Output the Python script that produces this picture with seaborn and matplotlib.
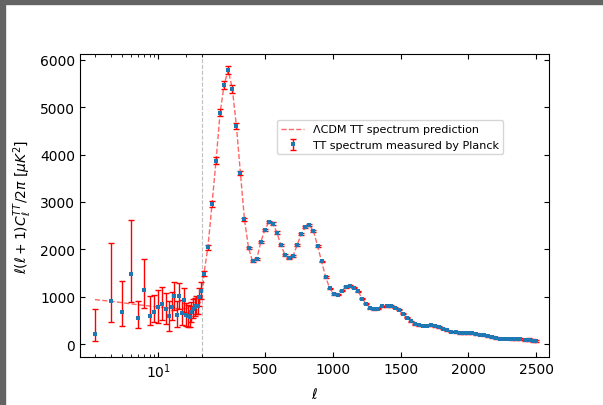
import numpy as np
import matplotlib
matplotlib.use("Agg")
import matplotlib.pyplot as plt
import seaborn as sns
from matplotlib.patches import Rectangle
from matplotlib.ticker import FixedLocator, NullFormatter

# ---------------- data ----------------
# low-ell (unbinned) measurements
low_ell = [2, 3, 4, 5, 6, 7, 8, 9, 10, 11, 12, 13, 14, 15, 16, 17, 18, 19, 20,
           21, 22, 23, 24, 25, 26, 27, 28, 29]
low_D = [215, 919, 674, 1482, 548, 1135, 597, 674, 786, 848, 742, 585, 790, 1008,
         625, 1010, 657, 925, 620, 590, 582, 680, 744, 780, 815, 812, 990, 1130]
low_err_up = [520, 1210, 667, 1145, 365, 660, 428, 365, 360, 360, 340, 320, 310, 300,
              290, 280, 270, 260, 250, 240, 230, 220, 210, 200, 195, 190, 185, 180]
low_err_lo = [140, 456, 294, 583, 211, 379, 190, 211, 330, 330, 310, 300, 290, 280,
              270, 260, 250, 240, 235, 225, 215, 205, 200, 190, 185, 180, 175, 170]

# high-ell (binned) measurements
high_ell = [45, 75, 105, 135, 165, 195, 225, 255, 285, 315, 345, 375, 405, 435, 465,
            495, 525, 555, 585, 615, 645, 675, 705, 735, 765, 795, 825, 855, 885, 915,
            945, 975, 1005, 1035, 1065, 1095, 1125, 1155, 1185, 1215, 1245, 1275, 1305,
            1335, 1365, 1395, 1425, 1455, 1485, 1515, 1545, 1575, 1605, 1635, 1665, 1695,
            1725, 1755, 1785, 1815, 1845, 1875, 1905, 1935, 1965, 1995, 2025, 2055, 2085,
            2115, 2145, 2175, 2205, 2235, 2265, 2295, 2325, 2355, 2385, 2415, 2445, 2475,
            2499]
high_D = [1490, 2040, 2960, 3870, 4880, 5470, 5790, 5380, 4610, 3610, 2630, 2025, 1745,
          1790, 2150, 2410, 2580, 2545, 2355, 2085, 1880, 1810, 1865, 2095, 2325, 2465,
          2515, 2390, 2075, 1745, 1420, 1175, 1060, 1048, 1130, 1205, 1228, 1195, 1117,
          962, 856, 757, 736, 743, 800, 806, 806, 771, 729, 638, 560, 484, 420, 399, 392,
          392, 399, 385, 364, 329, 294, 266, 252, 238, 238, 231, 231, 217, 203, 189, 168,
          147, 133, 119, 119, 119, 112, 112, 119, 98, 98, 77, 63]
high_err = [55, 55, 62, 70, 78, 82, 84, 76, 64, 48, 34, 26, 22, 21, 24, 26, 27, 26, 24,
            21, 19, 18, 18, 20, 21, 22, 22, 21, 18, 16, 14, 12, 12, 12, 12, 13, 13, 13,
            12, 12, 11, 11, 11, 11, 11, 11, 11, 11, 11, 11, 11, 11, 11, 11, 11, 11, 12,
            12, 12, 12, 12, 12, 13, 13, 13, 13, 14, 14, 14, 15, 15, 16, 16, 17, 17, 18,
            19, 20, 21, 22, 23, 24, 26]

# LCDM prediction
theory_ell = [2, 3, 4, 5, 6, 8, 10, 13, 16, 20, 24, 27, 30, 45, 75, 105, 135, 165, 195,
              225, 255, 285, 315, 345, 375, 405, 435, 465, 495, 525, 555, 585, 615, 645,
              675, 705, 735, 765, 795, 825, 855, 885, 915, 945, 975, 1005, 1035, 1065,
              1095, 1125, 1155, 1185, 1215, 1245, 1275, 1305, 1335, 1365, 1395, 1425,
              1455, 1485, 1515, 1545, 1575, 1605, 1635, 1665, 1695, 1725, 1755, 1785,
              1815, 1845, 1875, 1905, 1935, 1965, 1995, 2025, 2055, 2085, 2115, 2145,
              2175, 2205, 2235, 2265, 2295, 2325, 2355, 2385, 2415, 2445, 2475, 2499]
theory_D = [940, 905, 875, 850, 832, 805, 785, 765, 752, 752, 778, 830, 910, 1480, 2050,
            2950, 3880, 4880, 5480, 5780, 5390, 4610, 3610, 2630, 2030, 1748, 1790, 2145,
            2410, 2575, 2545, 2350, 2085, 1880, 1812, 1868, 2095, 2325, 2462, 2510, 2390,
            2075, 1745, 1420, 1175, 1062, 1050, 1128, 1203, 1226, 1195, 1115, 962, 855,
            757, 737, 745, 798, 806, 804, 770, 727, 638, 560, 486, 422, 400, 393, 393,
            396, 384, 362, 330, 296, 268, 252, 240, 236, 230, 228, 216, 203, 188, 168,
            148, 133, 122, 118, 116, 112, 110, 108, 98, 92, 80, 70]

x_ticks = [10, 500, 1000, 1500, 2000, 2500]
x_ticklabels = ["$10^1$", "500", "1000", "1500", "2000", "2500"]
x_minor = [2, 3, 4, 5, 6, 7, 8, 9, 20, 30]
y_ticks = [0, 1000, 2000, 3000, 4000, 5000, 6000]

# ---------------- hybrid log/linear x scale ----------------
L0 = 30.0
K = 672.0


def fwd(x):
    x = np.asarray(x, dtype=float)
    xs = np.where(x > 0, x, 1e-12)
    return np.where(x < L0, L0 + K * np.log10(xs / L0), x)


def inv(u):
    u = np.asarray(u, dtype=float)
    return np.where(u < L0, L0 * 10 ** ((np.minimum(u, L0) - L0) / K), u)


plt.rcParams["font.family"] = ["DejaVu Sans"]

fig = plt.figure(figsize=(6.03, 4.06), dpi=100)
ax = fig.add_axes([80 / 603, 1 - 358 / 406, 469 / 603, 303 / 406])

ell_all = low_ell + high_ell
D_all = low_D + high_D
err_lo = low_err_lo + high_err
err_hi = low_err_up + high_err

sns.lineplot(x=theory_ell, y=theory_D, ax=ax, color="r", linestyle="--", lw=1,
             alpha=0.6, sort=False, estimator=None,
             label="ΛCDM TT spectrum prediction")
eb = ax.errorbar(ell_all, D_all, yerr=[err_lo, err_hi], fmt="s", color="C0",
                 ecolor="r", elinewidth=1, capsize=2, capthick=1,
                 label="TT spectrum measured by Planck")
eb.lines[0].set_markersize(2.6)
eb.lines[0].set_markeredgewidth(0)
ax.axvline(L0, color="0.75", ls="--", lw=0.8, zorder=0)

ax.set_xscale("function", functions=(fwd, inv))
ax.set_xlim(1.37, 2596)
ax.set_ylim(-270, 6120)

ax.xaxis.set_major_locator(FixedLocator(x_ticks))
ax.set_xticklabels(x_ticklabels)
ax.xaxis.set_minor_locator(FixedLocator(x_minor))
ax.xaxis.set_minor_formatter(NullFormatter())
ax.set_yticks(y_ticks)
ax.tick_params(which="both", direction="in", top=True, right=True)

ax.set_xlabel(r"$\ell$")
ax.set_ylabel(r"$\ell(\ell+1)C_\ell^{TT}/2\pi\ [\mu K^2]$")

ax.legend(loc="upper left", bbox_to_anchor=(0.42, 0.782), borderaxespad=0,
          fontsize=8)

# gray frame strips at top and left
fig.add_artist(Rectangle((0, 1 - 5 / 406), 1, 5 / 406, transform=fig.transFigure,
                         color="#646464", zorder=10))
fig.add_artist(Rectangle((0, 0), 5 / 603, 1, transform=fig.transFigure,
                         color="#646464", zorder=10))

fig.savefig("out.png", dpi=100)
